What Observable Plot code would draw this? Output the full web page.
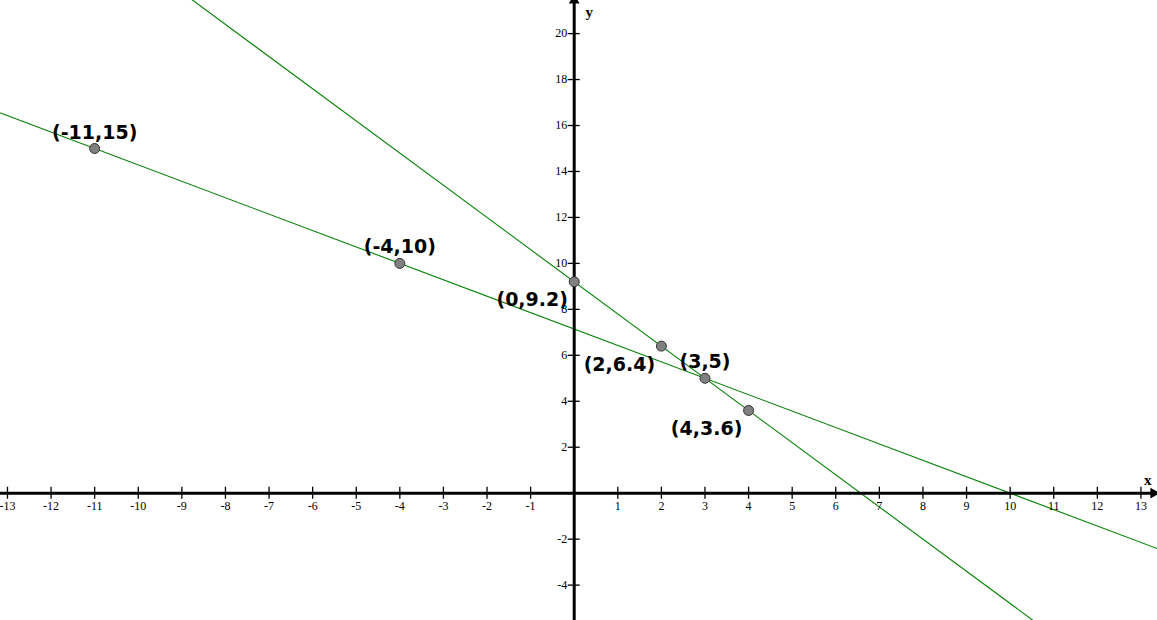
<!DOCTYPE html>
<html>
<head>
<meta charset="utf-8">
<script src="https://cdn.jsdelivr.net/npm/d3@7"></script>
<script src="https://cdn.jsdelivr.net/npm/@observablehq/plot@0.6"></script>
<style>
  html, body { margin: 0; padding: 0; background: #fff; }
  #chart svg { display: block; }
</style>
</head>
<body>
<div id="chart"></div>
<script>
// ---- data ----
const line1X = [-11, -4, 3];
const line1Y = [15, 10, 5];
const line2X = [0, 2, 3, 4];
const line2Y = [9.2, 6.4, 5, 3.6];

const pointX = [-11, -4, 0, 2, 3, 4];
const pointY = [15, 10, 9.2, 6.4, 5, 3.6];
const pointLabels = ["(-11,15)", "(-4,10)", "(0,9.2)", "(2,6.4)", "(3,5)", "(4,3.6)"];
const labelSide = ["above", "above", "below-left", "below-left", "above", "below-left"];

const xTickValues = [-13,-12,-11,-10,-9,-8,-7,-6,-5,-4,-3,-2,-1,0,1,2,3,4,5,6,7,8,9,10,11,12,13];
const xTickLabels = [-13,-12,-11,-10,-9,-8,-7,-6,-5,-4,-3,-2,-1,1,2,3,4,5,6,7,8,9,10,11,12,13];
const yTickValues = [-4,-2,2,4,6,8,10,12,14,16,18,20];

const xView = [-13.16, 13.38];
const yView = [-5.54, 21.44];

// ---- derived ----
function extend(xs, ys) {
  const n = xs.length - 1;
  const m = (ys[n] - ys[0]) / (xs[n] - xs[0]);
  const f = x => ys[0] + m * (x - xs[0]);
  return xView.map(x => ({x, y: f(x)}));
}
const line1 = extend(line1X, line1Y);
const line2 = extend(line2X, line2Y);
const points = pointX.map((x, i) => ({x, y: pointY[i], label: pointLabels[i], side: labelSide[i]}));

const serif = "'Liberation Serif', 'Times New Roman', serif";
const sans = "'DejaVu Sans', Verdana, sans-serif";

const chart = Plot.plot({
  width: 1157,
  height: 620,
  margin: 0,
  x: {domain: xView, axis: null},
  y: {domain: yView, axis: null},
  style: {background: "#fff"},
  marks: [
    Plot.line(line1, {x: "x", y: "y", stroke: "#008000", strokeWidth: 1.1, clip: true}),
    Plot.line(line2, {x: "x", y: "y", stroke: "#008000", strokeWidth: 1.1, clip: true}),
    Plot.ruleY([0], {stroke: "#000", strokeWidth: 3}),
    Plot.ruleX([0], {stroke: "#000", strokeWidth: 3}),
    Plot.ruleX(xTickValues, {x: d => d, y1: 0, y2: 0, insetTop: -6, insetBottom: -6, stroke: "#000", strokeWidth: 1.3}),
    Plot.ruleY(yTickValues, {y: d => d, x1: 0, x2: 0, insetLeft: -6, insetRight: -6, stroke: "#000", strokeWidth: 1.3}),
    Plot.text(xTickLabels, {x: d => d, y: 0, text: d => String(d), dy: 12.5, fontSize: 12, fontFamily: serif, fill: "#000"}),
    Plot.text(yTickValues, {x: 0, y: d => d, text: d => String(d), dx: -7, textAnchor: "end", fontSize: 12, fontFamily: serif, fill: "#000"}),
    Plot.dot([0], {y: d => d, frameAnchor: "right", symbol: "triangle", rotate: 90, r: 4, fill: "#000", stroke: "none", dx: -4}),
    Plot.dot([0], {x: d => d, frameAnchor: "top", symbol: "triangle", r: 4, fill: "#000", stroke: "none", dy: 0}),
    Plot.text(["x"], {y: 0, frameAnchor: "right", text: d => d, dx: -6, dy: -13, fontSize: 15, fontWeight: "bold", fontFamily: serif, fill: "#000"}),
    Plot.text(["y"], {x: 0, frameAnchor: "top", text: d => d, dx: 15, dy: 5.5, fontSize: 15, fontWeight: "bold", fontFamily: serif, fill: "#000"}),
    Plot.dot(points, {x: "x", y: "y", r: 5, fill: "#808080", stroke: "#333", strokeWidth: 1}),
    Plot.text(points.filter(d => d.side === "above"), {x: "x", y: "y", text: "label", dy: -16, fontSize: 19, fontWeight: "bold", fontFamily: sans, fill: "#000"}),
    Plot.text(points.filter(d => d.side === "below-left"), {x: "x", y: "y", text: "label", dx: -42, dy: 18.5, fontSize: 19, fontWeight: "bold", fontFamily: sans, fill: "#000"})
  ]
});
document.getElementById("chart").append(chart);
</script>
</body>
</html>
